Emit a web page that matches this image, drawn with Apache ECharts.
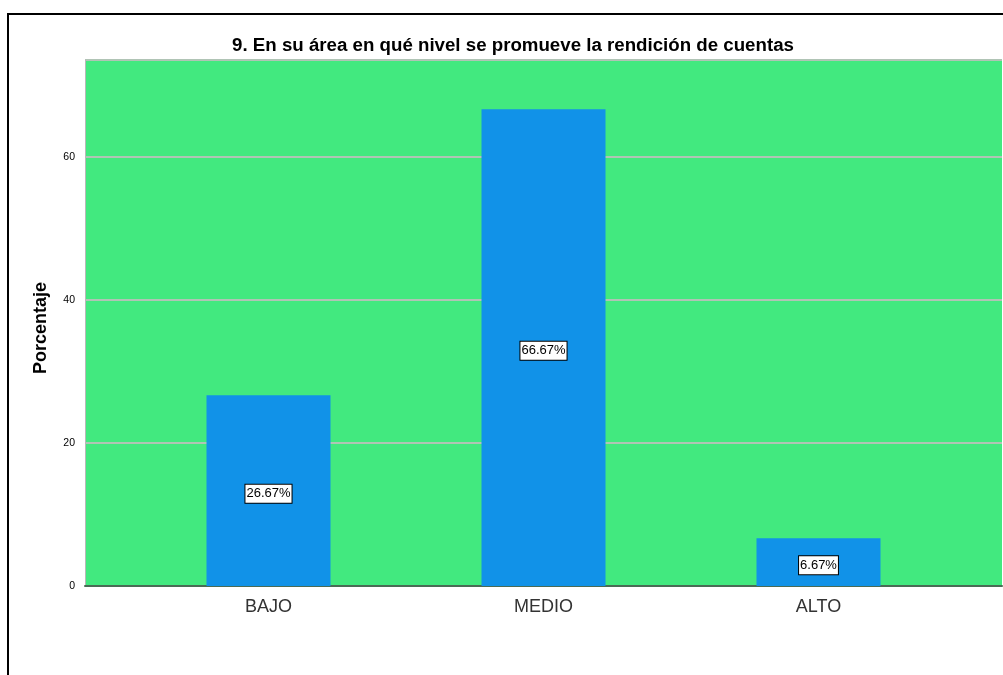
<!DOCTYPE html>
<html><head><meta charset="utf-8">
<script src="https://cdn.jsdelivr.net/npm/echarts@6/dist/echarts.min.js"></script>
<style>html,body{margin:0;padding:0;background:#fff}#c{width:1003px;height:675px}</style>
</head><body><div id="c"></div>
<script>
const title = '9. En su área en qué nivel se promueve la rendición de cuentas';
const categories = ['BAJO', 'MEDIO', 'ALTO'];
const values = [26.67, 66.67, 6.67];
const yTicks = [0, 20, 40, 60];
const yAxisName = 'Porcentaje';

// axis top chosen so 20 units = 143 px
const yMax = 526 * 20 / 143;

const chart = echarts.init(document.getElementById('c'), null, {renderer: 'canvas'});
chart.setOption({
  animation: false,
  backgroundColor: '#ffffff',
  title: {
    text: title, left: 508, top: 31, textAlign: 'center',
    textStyle: {fontFamily: 'Liberation Sans, Arial', fontSize: 18.7, fontWeight: 'bold', color: '#000'}
  },
  graphic: [{
    type: 'rect', shape: {x: 8, y: 14, width: 1200, height: 900},
    style: {fill: 'none', stroke: '#000', lineWidth: 2}, z: 100
  }, {
    type: 'text', x: 41, y: 328, rotation: Math.PI / 2,
    style: {text: yAxisName, font: 'bold 18px Liberation Sans, Arial', fill: '#000', align: 'center', verticalAlign: 'middle'},
    z: 100
  }],
  grid: [
    {left: 85, right: 1, top: 60, bottom: 89, show: true, backgroundColor: '#42e97f', borderWidth: 0},
    {left: 131, right: 47, top: 60, bottom: 89, show: false}
  ],
  xAxis: [
    {type: 'category', gridIndex: 0, data: categories, axisLine: {show: true, lineStyle: {color: '#4a6b55', width: 2}},
     axisTick: {show: false}, axisLabel: {show: false}, splitLine: {show: false}},
    {type: 'category', gridIndex: 1, data: categories, axisLine: {show: false}, axisTick: {show: false},
     axisLabel: {margin: 12, fontFamily: 'Liberation Sans, Arial', fontSize: 18, color: '#333'}}
  ],
  yAxis: [
    {type: 'value', gridIndex: 0, min: 0, max: yMax, interval: 20,
     axisLine: {show: true, lineStyle: {color: '#b8b8b8', width: 1}}, axisTick: {show: false},
     axisLabel: {margin: 10, fontFamily: 'Liberation Sans, Arial', fontSize: 10.5, color: '#000',
       formatter: v => yTicks.includes(v) ? String(v) : '', showMaxLabel: false},
     splitLine: {show: true, lineStyle: {color: '#b0c4b5', width: 2}}},
    {type: 'value', gridIndex: 1, min: 0, max: yMax, show: false, splitLine: {show: false}}
  ],
  series: [{
    type: 'bar', xAxisIndex: 1, yAxisIndex: 1, data: values, barWidth: 124,
    itemStyle: {color: '#1192e8'},
    label: {show: true, position: 'inside', offset: [0, 3], formatter: p => p.value.toFixed(2) + '%',
      fontFamily: 'Liberation Sans, Arial', fontSize: 13, color: '#000',
      backgroundColor: '#fff', borderColor: '#000', borderWidth: 1, padding: [3, 1, 2, 1]}
  }]
});
</script></body></html>
